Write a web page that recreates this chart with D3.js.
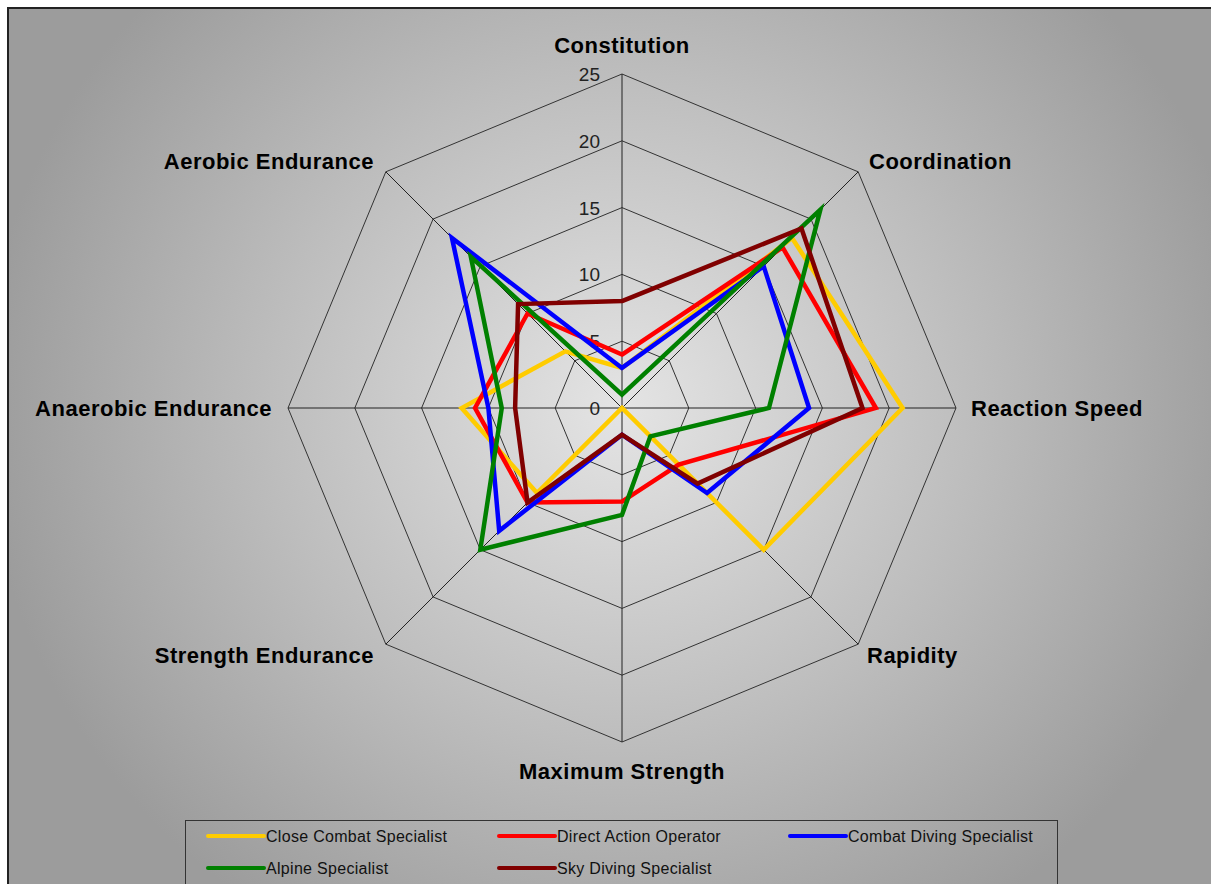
<!DOCTYPE html>
<html>
<head>
<meta charset="utf-8">
<script src="https://cdn.jsdelivr.net/npm/d3@7"></script>
<style>
  body { margin: 0; background: #fff; overflow: hidden; }
  text { font-family: "Liberation Sans", Arial, sans-serif; }
</style>
</head>
<body>
<script>
// Axes, clockwise from top
const axes = [
  "Constitution", "Coordination", "Reaction Speed", "Rapidity",
  "Maximum Strength", "Strength Endurance", "Anaerobic Endurance", "Aerobic Endurance"
];

const ticks = [0, 5, 10, 15, 20, 25];

// Series
const seriesNames = [
  "Close Combat Specialist", "Direct Action Operator", "Combat Diving Specialist",
  "Alpine Specialist", "Sky Diving Specialist"
];
const closeCombat = [3, 18, 21, 15, 0, 9, 12, 6];
const directAction = [4, 17, 19, 6, 7, 10, 11, 10];
const combatDiving = [3, 15, 14, 9, 2, 13, 10, 18];
const alpine = [1, 21, 11, 3, 8, 15, 9, 16];
const skyDiving = [8, 19, 18, 8, 2, 10, 8, 11];
const seriesValues = [closeCombat, directAction, combatDiving, alpine, skyDiving];
const seriesColors = ["#ffcc00", "#ff0000", "#0000ff", "#008000", "#800000"];

// Canvas config
const config = { width: 1211, height: 884 };
const center = { x: 622, y: 408 };
const radius = 334;

const svg = d3.select("body")
  .append("svg")
  .attr("width", config.width)
  .attr("height", config.height);

// Background gradient
const defs = svg.append("defs");
const grad = defs.append("radialGradient")
  .attr("id", "bg")
  .attr("gradientUnits", "userSpaceOnUse")
  .attr("cx", center.x).attr("cy", center.y)
  .attr("r", 640)
  .attr("gradientTransform", `translate(${center.x},${center.y}) scale(1,0.95) translate(${-center.x},${-center.y})`);
grad.append("stop").attr("offset", "0").attr("stop-color", "#e4e4e4");
grad.append("stop").attr("offset", "0.55").attr("stop-color", "#bdbdbd");
grad.append("stop").attr("offset", "1").attr("stop-color", "#9c9c9c");

svg.append("rect")
  .attr("x", 8).attr("y", 8)
  .attr("width", config.width).attr("height", config.height)
  .attr("fill", "url(#bg)")
  .attr("stroke", "#222")
  .attr("stroke-width", 2);

const r = d3.scaleLinear().domain([0, 25]).range([0, radius]);
const angle = i => (i * 2 * Math.PI) / axes.length;
const point = (v, i) => [
  center.x + r(v) * Math.sin(angle(i)),
  center.y - r(v) * Math.cos(angle(i))
];

const grid = svg.append("g");

// Octagon rings
ticks.filter(t => t > 0).forEach(t => {
  grid.append("polygon")
    .attr("points", axes.map((a, i) => point(t, i).join(",")).join(" "))
    .attr("fill", "none")
    .attr("stroke", "#333")
    .attr("stroke-width", 1);
});

// Spokes
grid.selectAll("line")
  .data(axes)
  .enter()
  .append("line")
  .attr("x1", center.x).attr("y1", center.y)
  .attr("x2", (d, i) => point(25, i)[0])
  .attr("y2", (d, i) => point(25, i)[1])
  .attr("stroke", "#222")
  .attr("stroke-width", 1);

// Tick labels
grid.selectAll(".tick")
  .data(ticks)
  .enter()
  .append("text")
  .attr("class", "tick")
  .attr("x", center.x - 22)
  .attr("y", d => center.y - r(d) + 7)
  .attr("text-anchor", "end")
  .attr("font-size", 19)
  .attr("fill", "#222")
  .text(d => d);

// Axis labels
const labelPos = [
  { dx: 0, dy: -355, anchor: "middle" },
  { dx: 247, dy: -239, anchor: "start" },
  { dx: 349, dy: 8, anchor: "start" },
  { dx: 245, dy: 255, anchor: "start" },
  { dx: 0, dy: 371, anchor: "middle" },
  { dx: -248, dy: 255, anchor: "end" },
  { dx: -350, dy: 8, anchor: "end" },
  { dx: -248, dy: -239, anchor: "end" }
];
svg.append("g")
  .selectAll("text")
  .data(axes)
  .enter()
  .append("text")
  .attr("x", (d, i) => center.x + labelPos[i].dx)
  .attr("y", (d, i) => center.y + labelPos[i].dy)
  .attr("text-anchor", (d, i) => labelPos[i].anchor)
  .attr("font-size", 22)
  .attr("letter-spacing", 0.5)
  .attr("font-weight", "bold")
  .attr("fill", "#000")
  .text(d => d);

// Series lines
const line = d3.line().curve(d3.curveLinearClosed);
svg.append("g")
  .selectAll("path")
  .data(seriesValues)
  .enter()
  .append("path")
  .attr("d", vals => line(vals.map((v, i) => point(v, i))))
  .attr("fill", "none")
  .attr("stroke", (d, i) => seriesColors[i])
  .attr("stroke-width", 4.5)
  .attr("stroke-linejoin", "miter");

// Legend
const legend = svg.append("g");
legend.append("rect")
  .attr("x", 185.5).attr("y", 820.5)
  .attr("width", 872).attr("height", 80)
  .attr("fill", "none")
  .attr("stroke", "#333")
  .attr("stroke-width", 1);

const legendItem = legend.selectAll(".legend-item")
  .data(seriesNames)
  .enter()
  .append("g")
  .attr("class", "legend-item")
  .attr("transform", (d, i) => `translate(${208 + (i % 3) * 291},${836 + Math.floor(i / 3) * 32})`);

legendItem.append("line")
  .attr("x1", 0).attr("x2", 56)
  .attr("stroke", (d, i) => seriesColors[i])
  .attr("stroke-width", 4)
  .attr("stroke-linecap", "round");

legendItem.append("text")
  .attr("x", 58)
  .attr("y", 6)
  .attr("font-size", 16)
  .attr("letter-spacing", 0.3)
  .attr("fill", "#111")
  .text(d => d);
</script>
</body>
</html>
